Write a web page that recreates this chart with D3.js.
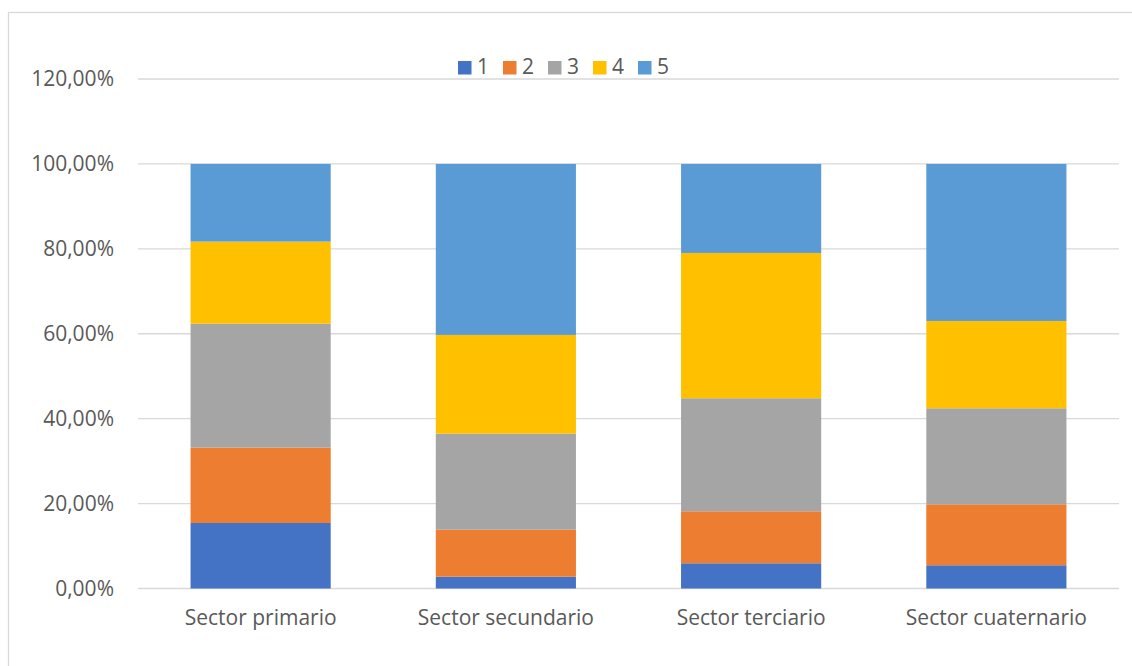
<!DOCTYPE html>
<html>
<head>
<meta charset="utf-8">
<script src="https://cdn.jsdelivr.net/npm/d3@7"></script>
<style>
  html, body { margin: 0; padding: 0; background: #fff; }
  svg { display: block; }
  text { font-family: "Open Sans", "Noto Sans", sans-serif; fill: #595959; }
</style>
</head>
<body>
<svg id="chart" width="1132" height="666"></svg>
<script>
// Sectors on the x axis
const categories = ["Sector primario", "Sector secundario", "Sector terciario", "Sector cuaternario"];
// Rating levels stacked in each bar
const seriesNames = ["1", "2", "3", "4", "5"];
// Share of answers per level (percent), one value per sector
const level1 = [15.43, 2.78, 5.94, 5.47];
const level2 = [17.74, 11.07, 12.25, 14.36];
const level3 = [29.21, 22.62, 26.62, 22.62];
const level4 = [19.32, 23.25, 34.22, 20.56];
const level5 = [18.30, 40.28, 20.97, 36.99];
// Y axis ticks (percent)
const yTicks = [0, 20, 40, 60, 80, 100, 120];
const colors = ["#4472c4", "#ed7d31", "#a5a5a5", "#ffc000", "#5b9bd5"];

const seriesValues = [level1, level2, level3, level4, level5];
const rows = categories.map((c, i) => {
  const r = { category: c };
  seriesNames.forEach((s, k) => { r[s] = seriesValues[k][i]; });
  return r;
});

const svg = d3.select("#chart");
const fontSize = 21;

// chart frame
svg.append("rect")
  .attr("x", 8.5).attr("y", 12.5)
  .attr("width", 1140).attr("height", 670)
  .attr("fill", "none").attr("stroke", "#d9d9d9").attr("stroke-width", 1.3);

const plot = { left: 138, right: 1119, top: 79, bottom: 588.5 };

const x = d3.scaleBand()
  .domain(categories)
  .range([plot.left, plot.right])
  .paddingInner(0.75 / 1.75)
  .paddingOuter(0.75 / 1.75 / 2);

const y = d3.scaleLinear().domain([0, 120]).range([plot.bottom, plot.top]);

// gridlines
svg.append("g")
  .selectAll("line")
  .data(yTicks)
  .join("line")
  .attr("x1", plot.left).attr("x2", plot.right)
  .attr("y1", d => y(d)).attr("y2", d => y(d))
  .attr("stroke", "#d9d9d9").attr("stroke-width", 1.3);

// y axis labels
const fmt = v => d3.format(".2f")(v).replace(".", ",") + "%";
const yAxis = d3.axisLeft(y).tickValues(yTicks).tickFormat(fmt).tickSize(0).tickPadding(24);
const yg = svg.append("g").attr("transform", `translate(${plot.left},0)`).call(yAxis);
yg.select(".domain").remove();
yg.selectAll("text")
  .attr("font-size", fontSize)
  .attr("fill", "#595959")
  .attr("font-family", "'Open Sans', sans-serif");

// stacked bars
const stack = d3.stack().keys(seriesNames);
const layers = stack(rows);

svg.append("g")
  .selectAll("g")
  .data(layers)
  .join("g")
  .attr("fill", (d, i) => colors[i])
  .selectAll("rect")
  .data(d => d)
  .join("rect")
  .attr("x", d => x(d.data.category))
  .attr("width", x.bandwidth())
  .attr("y", d => y(d[1]))
  .attr("height", d => y(d[0]) - y(d[1]));

// x axis labels
const xAxis = d3.axisBottom(x).tickSize(0).tickPadding(22);
const xg = svg.append("g").attr("transform", `translate(0,${plot.bottom})`).call(xAxis);
xg.select(".domain").remove();
xg.selectAll("text")
  .attr("font-size", fontSize)
  .attr("fill", "#595959")
  .attr("font-family", "'Open Sans', sans-serif");

// legend
const legend = svg.append("g").attr("transform", "translate(458,61)");
const item = legend.selectAll("g")
  .data(seriesNames)
  .join("g")
  .attr("transform", (d, i) => `translate(${i * 45},0)`);
item.append("rect")
  .attr("width", 13.5).attr("height", 13.5)
  .attr("fill", (d, i) => colors[i]);
item.append("text")
  .attr("x", 19).attr("y", 12.5)
  .attr("font-size", fontSize)
  .text(d => d);
</script>
</body>
</html>
